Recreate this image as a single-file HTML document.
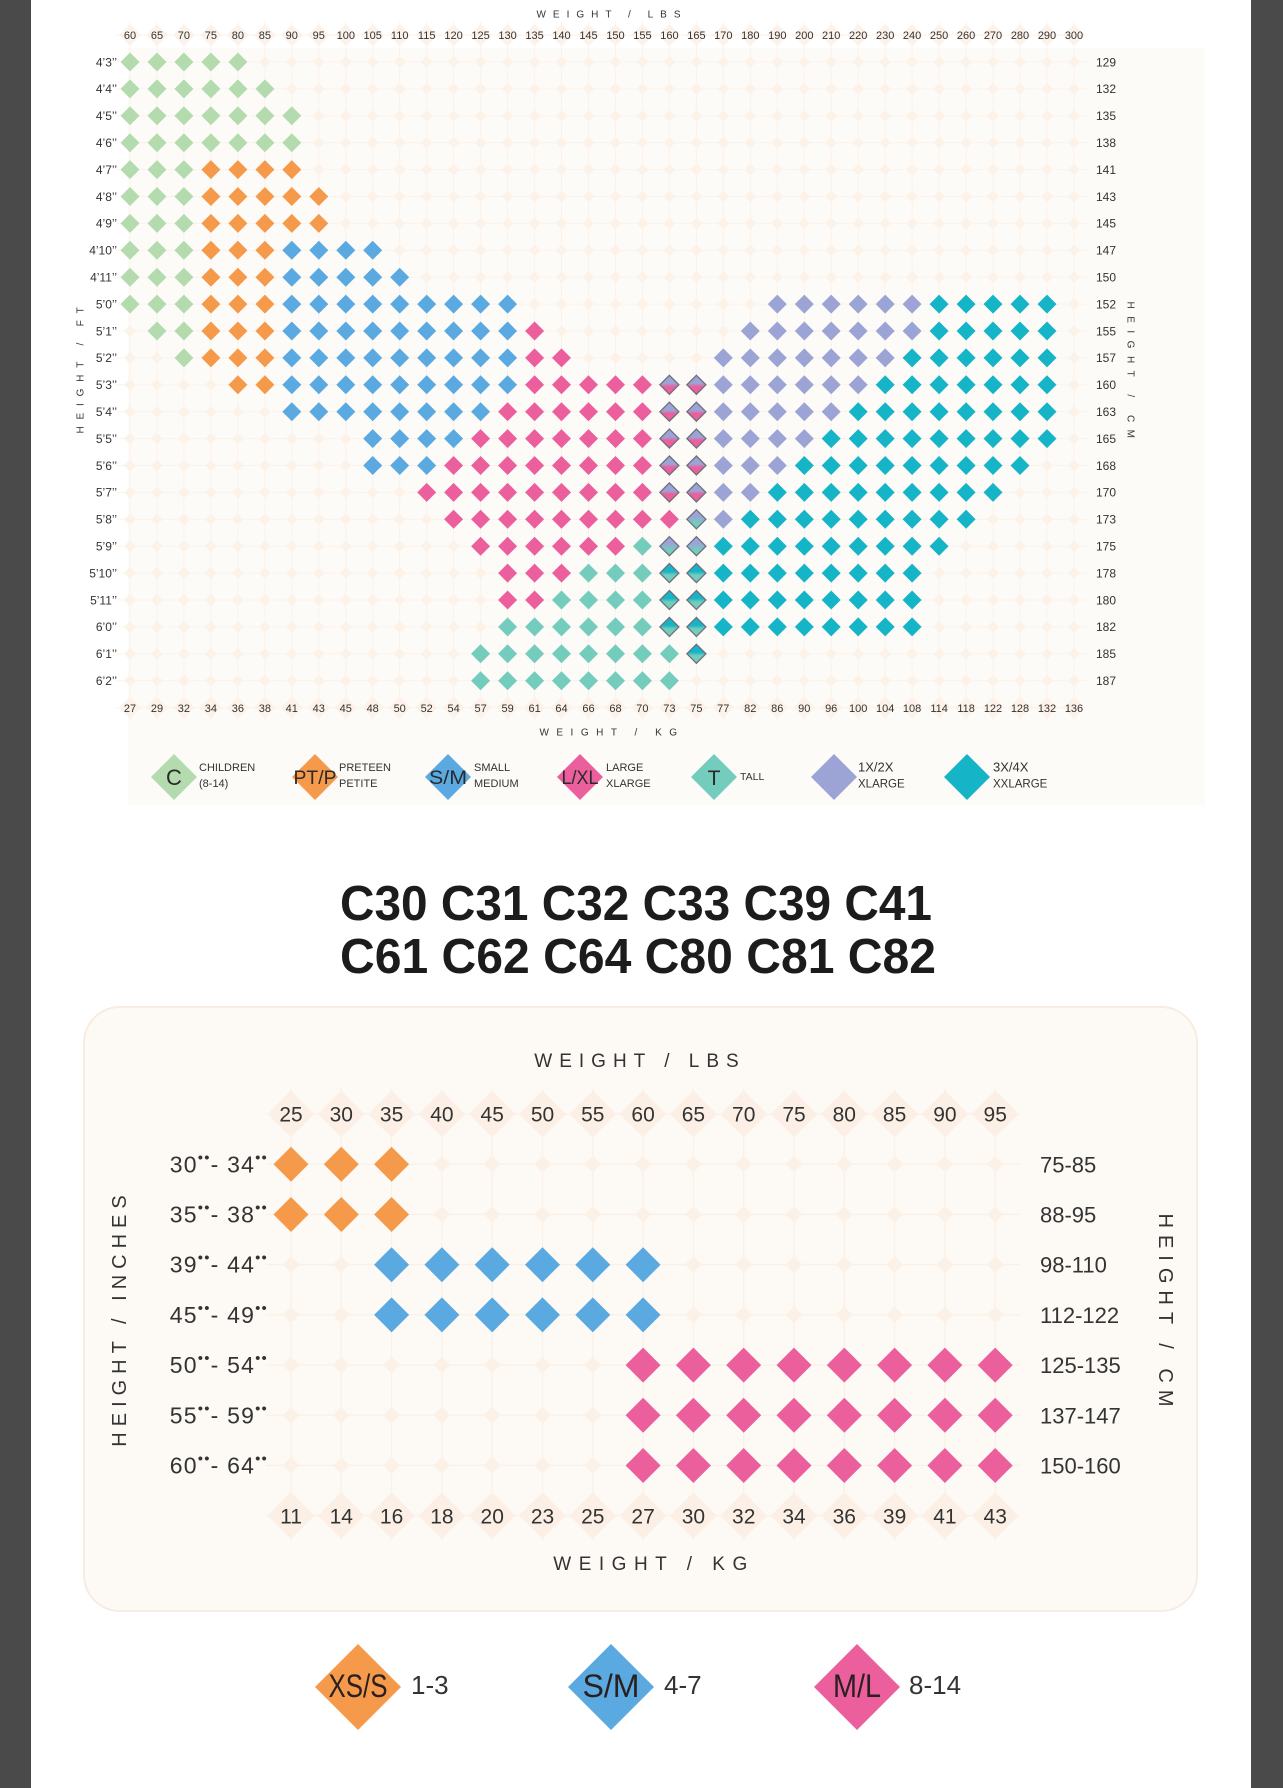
<!DOCTYPE html>
<html><head><meta charset="utf-8"><style>
html,body{margin:0;padding:0;background:#fff;}
body{width:1283px;height:1788px;overflow:hidden;}
svg{display:block;font-family:"Liberation Sans",Arial,sans-serif;}
</style></head><body>
<svg width="1283" height="1788" viewBox="0 0 1283 1788" xmlns="http://www.w3.org/2000/svg">
<defs>
<path id="g" d="M0-9.5L9.5 0L0 9.5L-9.5 0Z" fill="#b4dbae"/>
<path id="o" d="M0-9.5L9.5 0L0 9.5L-9.5 0Z" fill="#f59a4b"/>
<path id="b" d="M0-9.5L9.5 0L0 9.5L-9.5 0Z" fill="#5ba9e1"/>
<path id="p" d="M0-9.5L9.5 0L0 9.5L-9.5 0Z" fill="#eb5f9c"/>
<path id="t" d="M0-9.5L9.5 0L0 9.5L-9.5 0Z" fill="#73ccbc"/>
<path id="l" d="M0-9.5L9.5 0L0 9.5L-9.5 0Z" fill="#9ca4d6"/>
<path id="c" d="M0-9.5L9.5 0L0 9.5L-9.5 0Z" fill="#16b4c7"/>
<linearGradient id="gA" x1="0" y1="0" x2="0" y2="1"><stop offset=".42" stop-color="#9ca4d6"/><stop offset=".6" stop-color="#eb5f9c"/></linearGradient>
<linearGradient id="gB" x1="0" y1="0" x2="0" y2="1"><stop offset=".35" stop-color="#9ca4d6"/><stop offset=".7" stop-color="#73ccbc"/></linearGradient>
<linearGradient id="gC" x1="0" y1="0" x2="0" y2="1"><stop offset=".42" stop-color="#16b4c7"/><stop offset=".6" stop-color="#73ccbc"/></linearGradient>
<path id="sA" d="M0-9.5L9.5 0L0 9.5L-9.5 0Z" fill="url(#gA)" stroke="#6e6f7c" stroke-width="1.3"/>
<path id="sB" d="M0-9.5L9.5 0L0 9.5L-9.5 0Z" fill="url(#gB)" stroke="#6e6f7c" stroke-width="1.3"/>
<path id="sC" d="M0-9.5L9.5 0L0 9.5L-9.5 0Z" fill="url(#gC)" stroke="#6e6f7c" stroke-width="1.3"/>
<path id="O2" d="M0-17.5L17.5 0L0 17.5L-17.5 0Z" fill="#f59a4b"/>
<path id="B2" d="M0-17.5L17.5 0L0 17.5L-17.5 0Z" fill="#5ba9e1"/>
<path id="P2" d="M0-17.5L17.5 0L0 17.5L-17.5 0Z" fill="#eb5f9c"/>
<pattern id="gt" patternUnits="userSpaceOnUse" x="116.515" y="21.65" width="26.97" height="26.9">
<path d="M13.485 0V26.9M0 13.45H26.97" stroke="#faf3ed" stroke-width="1"/>
<path d="M13.485 7.5L19.485 13.45L13.485 19.4L7.485 13.45Z" fill="#fdf2e8"/>
</pattern>
<pattern id="lt" patternUnits="userSpaceOnUse" x="116.515" y="21.65" width="26.97" height="26.9">
<path d="M13.485 2.45L24.485 13.45L13.485 24.45L2.485 13.45Z" fill="#fdf2e9"/>
</pattern>
<pattern id="gbp" patternUnits="userSpaceOnUse" x="265.85" y="1088.9" width="50.3" height="50.2">
<path d="M25.15 0V50.2M0 25.1H50.3" stroke="#f8f0e8" stroke-width="1.2"/>
<path d="M25.15 16.6L33.65 25.1L25.15 33.6L16.65 25.1Z" fill="#fcf1e7"/>
</pattern>
<pattern id="lbp" patternUnits="userSpaceOnUse" x="265.85" y="1088.9" width="50.3" height="50.2">
<path d="M25.15 1.6L48.65 25.1L25.15 48.6L1.65 25.1Z" fill="#fcf0e6"/>
</pattern>
</defs>

<rect x="0" y="0" width="31" height="1788" fill="#4a4a4a"/>
<rect x="1251" y="0" width="32" height="1788" fill="#4a4a4a"/>

<rect x="128" y="48" width="1077" height="757" fill="#fdfbf8"/>
<rect x="116.515" y="21.65" width="970.92" height="699.4" fill="url(#gt)"/>
<rect x="116.515" y="21.65" width="970.92" height="26.9" fill="url(#lt)"/>
<rect x="116.515" y="694.15" width="970.92" height="26.9" fill="url(#lt)"/>

<g fill="#333" font-size="10">
<text x="612" y="17.5" text-anchor="middle" letter-spacing="7">WEIGHT / LBS</text>
<text x="612" y="735.5" text-anchor="middle" letter-spacing="7.5">WEIGHT / KG</text>
<text transform="translate(80,370) rotate(-90)" x="3" y="3.5" text-anchor="middle" letter-spacing="6.8">HEIGHT / FT</text>
<text transform="translate(1131,370) rotate(90)" x="3.5" y="3.5" text-anchor="middle" letter-spacing="7.5">HEIGHT / CM</text>
</g>

<text y="39" font-size="11" fill="#333" text-anchor="middle"><tspan x="130">60</tspan><tspan x="157">65</tspan><tspan x="183.9">70</tspan><tspan x="210.9">75</tspan><tspan x="237.9">80</tspan><tspan x="264.9">85</tspan><tspan x="291.8">90</tspan><tspan x="318.8">95</tspan><tspan x="345.8">100</tspan><tspan x="372.7">105</tspan><tspan x="399.7">110</tspan><tspan x="426.7">115</tspan><tspan x="453.6">120</tspan><tspan x="480.6">125</tspan><tspan x="507.6">130</tspan><tspan x="534.6">135</tspan><tspan x="561.5">140</tspan><tspan x="588.5">145</tspan><tspan x="615.5">150</tspan><tspan x="642.4">155</tspan><tspan x="669.4">160</tspan><tspan x="696.4">165</tspan><tspan x="723.3">170</tspan><tspan x="750.3">180</tspan><tspan x="777.3">190</tspan><tspan x="804.3">200</tspan><tspan x="831.2">210</tspan><tspan x="858.2">220</tspan><tspan x="885.2">230</tspan><tspan x="912.1">240</tspan><tspan x="939.1">250</tspan><tspan x="966.1">260</tspan><tspan x="993">270</tspan><tspan x="1020">280</tspan><tspan x="1047">290</tspan><tspan x="1074">300</tspan></text>

<text y="711.8" font-size="11" fill="#333" text-anchor="middle"><tspan x="130">27</tspan><tspan x="157">29</tspan><tspan x="183.9">32</tspan><tspan x="210.9">34</tspan><tspan x="237.9">36</tspan><tspan x="264.9">38</tspan><tspan x="291.8">41</tspan><tspan x="318.8">43</tspan><tspan x="345.8">45</tspan><tspan x="372.7">48</tspan><tspan x="399.7">50</tspan><tspan x="426.7">52</tspan><tspan x="453.6">54</tspan><tspan x="480.6">57</tspan><tspan x="507.6">59</tspan><tspan x="534.6">61</tspan><tspan x="561.5">64</tspan><tspan x="588.5">66</tspan><tspan x="615.5">68</tspan><tspan x="642.4">70</tspan><tspan x="669.4">73</tspan><tspan x="696.4">75</tspan><tspan x="723.3">77</tspan><tspan x="750.3">82</tspan><tspan x="777.3">86</tspan><tspan x="804.3">90</tspan><tspan x="831.2">96</tspan><tspan x="858.2">100</tspan><tspan x="885.2">104</tspan><tspan x="912.1">108</tspan><tspan x="939.1">114</tspan><tspan x="966.1">118</tspan><tspan x="993">122</tspan><tspan x="1020">128</tspan><tspan x="1047">132</tspan><tspan x="1074">136</tspan></text>

<text font-size="12" fill="#333" text-anchor="end"><tspan x="117" y="66.3">4’3’’</tspan><tspan x="117" y="93.2">4’4’’</tspan><tspan x="117" y="120.1">4’5’’</tspan><tspan x="117" y="147">4’6’’</tspan><tspan x="117" y="173.9">4’7’’</tspan><tspan x="117" y="200.8">4’8’’</tspan><tspan x="117" y="227.7">4’9’’</tspan><tspan x="117" y="254.6">4’10’’</tspan><tspan x="117" y="281.5">4’11’’</tspan><tspan x="117" y="308.4">5’0’’</tspan><tspan x="117" y="335.3">5’1’’</tspan><tspan x="117" y="362.2">5’2’’</tspan><tspan x="117" y="389.1">5’3’’</tspan><tspan x="117" y="416">5’4’’</tspan><tspan x="117" y="442.9">5’5’’</tspan><tspan x="117" y="469.8">5’6’’</tspan><tspan x="117" y="496.7">5’7’’</tspan><tspan x="117" y="523.6">5’8’’</tspan><tspan x="117" y="550.5">5’9’’</tspan><tspan x="117" y="577.4">5’10’’</tspan><tspan x="117" y="604.3">5’11’’</tspan><tspan x="117" y="631.2">6’0’’</tspan><tspan x="117" y="658.1">6’1’’</tspan><tspan x="117" y="685">6’2’’</tspan></text>

<text font-size="12" fill="#333"><tspan x="1096" y="66.3">129</tspan><tspan x="1096" y="93.2">132</tspan><tspan x="1096" y="120.1">135</tspan><tspan x="1096" y="147">138</tspan><tspan x="1096" y="173.9">141</tspan><tspan x="1096" y="200.8">143</tspan><tspan x="1096" y="227.7">145</tspan><tspan x="1096" y="254.6">147</tspan><tspan x="1096" y="281.5">150</tspan><tspan x="1096" y="308.4">152</tspan><tspan x="1096" y="335.3">155</tspan><tspan x="1096" y="362.2">157</tspan><tspan x="1096" y="389.1">160</tspan><tspan x="1096" y="416">163</tspan><tspan x="1096" y="442.9">165</tspan><tspan x="1096" y="469.8">168</tspan><tspan x="1096" y="496.7">170</tspan><tspan x="1096" y="523.6">173</tspan><tspan x="1096" y="550.5">175</tspan><tspan x="1096" y="577.4">178</tspan><tspan x="1096" y="604.3">180</tspan><tspan x="1096" y="631.2">182</tspan><tspan x="1096" y="658.1">185</tspan><tspan x="1096" y="685">187</tspan></text>

<g transform="translate(0,62)"><use href="#g" x="130"/><use href="#g" x="157"/><use href="#g" x="183.9"/><use href="#g" x="210.9"/><use href="#g" x="237.9"/></g>
<g transform="translate(0,88.9)"><use href="#g" x="130"/><use href="#g" x="157"/><use href="#g" x="183.9"/><use href="#g" x="210.9"/><use href="#g" x="237.9"/><use href="#g" x="264.9"/></g>
<g transform="translate(0,115.8)"><use href="#g" x="130"/><use href="#g" x="157"/><use href="#g" x="183.9"/><use href="#g" x="210.9"/><use href="#g" x="237.9"/><use href="#g" x="264.9"/><use href="#g" x="291.8"/></g>
<g transform="translate(0,142.7)"><use href="#g" x="130"/><use href="#g" x="157"/><use href="#g" x="183.9"/><use href="#g" x="210.9"/><use href="#g" x="237.9"/><use href="#g" x="264.9"/><use href="#g" x="291.8"/></g>
<g transform="translate(0,169.6)"><use href="#g" x="130"/><use href="#g" x="157"/><use href="#g" x="183.9"/><use href="#o" x="210.9"/><use href="#o" x="237.9"/><use href="#o" x="264.9"/><use href="#o" x="291.8"/></g>
<g transform="translate(0,196.5)"><use href="#g" x="130"/><use href="#g" x="157"/><use href="#g" x="183.9"/><use href="#o" x="210.9"/><use href="#o" x="237.9"/><use href="#o" x="264.9"/><use href="#o" x="291.8"/><use href="#o" x="318.8"/></g>
<g transform="translate(0,223.4)"><use href="#g" x="130"/><use href="#g" x="157"/><use href="#g" x="183.9"/><use href="#o" x="210.9"/><use href="#o" x="237.9"/><use href="#o" x="264.9"/><use href="#o" x="291.8"/><use href="#o" x="318.8"/></g>
<g transform="translate(0,250.3)"><use href="#g" x="130"/><use href="#g" x="157"/><use href="#g" x="183.9"/><use href="#o" x="210.9"/><use href="#o" x="237.9"/><use href="#o" x="264.9"/><use href="#b" x="291.8"/><use href="#b" x="318.8"/><use href="#b" x="345.8"/><use href="#b" x="372.7"/></g>
<g transform="translate(0,277.2)"><use href="#g" x="130"/><use href="#g" x="157"/><use href="#g" x="183.9"/><use href="#o" x="210.9"/><use href="#o" x="237.9"/><use href="#o" x="264.9"/><use href="#b" x="291.8"/><use href="#b" x="318.8"/><use href="#b" x="345.8"/><use href="#b" x="372.7"/><use href="#b" x="399.7"/></g>
<g transform="translate(0,304.1)"><use href="#g" x="130"/><use href="#g" x="157"/><use href="#g" x="183.9"/><use href="#o" x="210.9"/><use href="#o" x="237.9"/><use href="#o" x="264.9"/><use href="#b" x="291.8"/><use href="#b" x="318.8"/><use href="#b" x="345.8"/><use href="#b" x="372.7"/><use href="#b" x="399.7"/><use href="#b" x="426.7"/><use href="#b" x="453.6"/><use href="#b" x="480.6"/><use href="#b" x="507.6"/><use href="#l" x="777.3"/><use href="#l" x="804.3"/><use href="#l" x="831.2"/><use href="#l" x="858.2"/><use href="#l" x="885.2"/><use href="#l" x="912.1"/><use href="#c" x="939.1"/><use href="#c" x="966.1"/><use href="#c" x="993"/><use href="#c" x="1020"/><use href="#c" x="1047"/></g>
<g transform="translate(0,331)"><use href="#g" x="157"/><use href="#g" x="183.9"/><use href="#o" x="210.9"/><use href="#o" x="237.9"/><use href="#o" x="264.9"/><use href="#b" x="291.8"/><use href="#b" x="318.8"/><use href="#b" x="345.8"/><use href="#b" x="372.7"/><use href="#b" x="399.7"/><use href="#b" x="426.7"/><use href="#b" x="453.6"/><use href="#b" x="480.6"/><use href="#b" x="507.6"/><use href="#p" x="534.6"/><use href="#l" x="750.3"/><use href="#l" x="777.3"/><use href="#l" x="804.3"/><use href="#l" x="831.2"/><use href="#l" x="858.2"/><use href="#l" x="885.2"/><use href="#l" x="912.1"/><use href="#c" x="939.1"/><use href="#c" x="966.1"/><use href="#c" x="993"/><use href="#c" x="1020"/><use href="#c" x="1047"/></g>
<g transform="translate(0,357.9)"><use href="#g" x="183.9"/><use href="#o" x="210.9"/><use href="#o" x="237.9"/><use href="#o" x="264.9"/><use href="#b" x="291.8"/><use href="#b" x="318.8"/><use href="#b" x="345.8"/><use href="#b" x="372.7"/><use href="#b" x="399.7"/><use href="#b" x="426.7"/><use href="#b" x="453.6"/><use href="#b" x="480.6"/><use href="#b" x="507.6"/><use href="#p" x="534.6"/><use href="#p" x="561.5"/><use href="#l" x="723.3"/><use href="#l" x="750.3"/><use href="#l" x="777.3"/><use href="#l" x="804.3"/><use href="#l" x="831.2"/><use href="#l" x="858.2"/><use href="#l" x="885.2"/><use href="#c" x="912.1"/><use href="#c" x="939.1"/><use href="#c" x="966.1"/><use href="#c" x="993"/><use href="#c" x="1020"/><use href="#c" x="1047"/></g>
<g transform="translate(0,384.8)"><use href="#o" x="237.9"/><use href="#o" x="264.9"/><use href="#b" x="291.8"/><use href="#b" x="318.8"/><use href="#b" x="345.8"/><use href="#b" x="372.7"/><use href="#b" x="399.7"/><use href="#b" x="426.7"/><use href="#b" x="453.6"/><use href="#b" x="480.6"/><use href="#b" x="507.6"/><use href="#p" x="534.6"/><use href="#p" x="561.5"/><use href="#p" x="588.5"/><use href="#p" x="615.5"/><use href="#p" x="642.4"/><use href="#sA" x="669.4"/><use href="#sA" x="696.4"/><use href="#l" x="723.3"/><use href="#l" x="750.3"/><use href="#l" x="777.3"/><use href="#l" x="804.3"/><use href="#l" x="831.2"/><use href="#l" x="858.2"/><use href="#c" x="885.2"/><use href="#c" x="912.1"/><use href="#c" x="939.1"/><use href="#c" x="966.1"/><use href="#c" x="993"/><use href="#c" x="1020"/><use href="#c" x="1047"/></g>
<g transform="translate(0,411.7)"><use href="#b" x="291.8"/><use href="#b" x="318.8"/><use href="#b" x="345.8"/><use href="#b" x="372.7"/><use href="#b" x="399.7"/><use href="#b" x="426.7"/><use href="#b" x="453.6"/><use href="#b" x="480.6"/><use href="#p" x="507.6"/><use href="#p" x="534.6"/><use href="#p" x="561.5"/><use href="#p" x="588.5"/><use href="#p" x="615.5"/><use href="#p" x="642.4"/><use href="#sA" x="669.4"/><use href="#sA" x="696.4"/><use href="#l" x="723.3"/><use href="#l" x="750.3"/><use href="#l" x="777.3"/><use href="#l" x="804.3"/><use href="#l" x="831.2"/><use href="#c" x="858.2"/><use href="#c" x="885.2"/><use href="#c" x="912.1"/><use href="#c" x="939.1"/><use href="#c" x="966.1"/><use href="#c" x="993"/><use href="#c" x="1020"/><use href="#c" x="1047"/></g>
<g transform="translate(0,438.6)"><use href="#b" x="372.7"/><use href="#b" x="399.7"/><use href="#b" x="426.7"/><use href="#b" x="453.6"/><use href="#p" x="480.6"/><use href="#p" x="507.6"/><use href="#p" x="534.6"/><use href="#p" x="561.5"/><use href="#p" x="588.5"/><use href="#p" x="615.5"/><use href="#p" x="642.4"/><use href="#sA" x="669.4"/><use href="#sA" x="696.4"/><use href="#l" x="723.3"/><use href="#l" x="750.3"/><use href="#l" x="777.3"/><use href="#l" x="804.3"/><use href="#c" x="831.2"/><use href="#c" x="858.2"/><use href="#c" x="885.2"/><use href="#c" x="912.1"/><use href="#c" x="939.1"/><use href="#c" x="966.1"/><use href="#c" x="993"/><use href="#c" x="1020"/><use href="#c" x="1047"/></g>
<g transform="translate(0,465.5)"><use href="#b" x="372.7"/><use href="#b" x="399.7"/><use href="#b" x="426.7"/><use href="#p" x="453.6"/><use href="#p" x="480.6"/><use href="#p" x="507.6"/><use href="#p" x="534.6"/><use href="#p" x="561.5"/><use href="#p" x="588.5"/><use href="#p" x="615.5"/><use href="#p" x="642.4"/><use href="#sA" x="669.4"/><use href="#sA" x="696.4"/><use href="#l" x="723.3"/><use href="#l" x="750.3"/><use href="#l" x="777.3"/><use href="#c" x="804.3"/><use href="#c" x="831.2"/><use href="#c" x="858.2"/><use href="#c" x="885.2"/><use href="#c" x="912.1"/><use href="#c" x="939.1"/><use href="#c" x="966.1"/><use href="#c" x="993"/><use href="#c" x="1020"/></g>
<g transform="translate(0,492.4)"><use href="#p" x="426.7"/><use href="#p" x="453.6"/><use href="#p" x="480.6"/><use href="#p" x="507.6"/><use href="#p" x="534.6"/><use href="#p" x="561.5"/><use href="#p" x="588.5"/><use href="#p" x="615.5"/><use href="#p" x="642.4"/><use href="#sA" x="669.4"/><use href="#sA" x="696.4"/><use href="#l" x="723.3"/><use href="#l" x="750.3"/><use href="#c" x="777.3"/><use href="#c" x="804.3"/><use href="#c" x="831.2"/><use href="#c" x="858.2"/><use href="#c" x="885.2"/><use href="#c" x="912.1"/><use href="#c" x="939.1"/><use href="#c" x="966.1"/><use href="#c" x="993"/></g>
<g transform="translate(0,519.3)"><use href="#p" x="453.6"/><use href="#p" x="480.6"/><use href="#p" x="507.6"/><use href="#p" x="534.6"/><use href="#p" x="561.5"/><use href="#p" x="588.5"/><use href="#p" x="615.5"/><use href="#p" x="642.4"/><use href="#p" x="669.4"/><use href="#sB" x="696.4"/><use href="#l" x="723.3"/><use href="#c" x="750.3"/><use href="#c" x="777.3"/><use href="#c" x="804.3"/><use href="#c" x="831.2"/><use href="#c" x="858.2"/><use href="#c" x="885.2"/><use href="#c" x="912.1"/><use href="#c" x="939.1"/><use href="#c" x="966.1"/></g>
<g transform="translate(0,546.2)"><use href="#p" x="480.6"/><use href="#p" x="507.6"/><use href="#p" x="534.6"/><use href="#p" x="561.5"/><use href="#p" x="588.5"/><use href="#p" x="615.5"/><use href="#t" x="642.4"/><use href="#sB" x="669.4"/><use href="#sB" x="696.4"/><use href="#c" x="723.3"/><use href="#c" x="750.3"/><use href="#c" x="777.3"/><use href="#c" x="804.3"/><use href="#c" x="831.2"/><use href="#c" x="858.2"/><use href="#c" x="885.2"/><use href="#c" x="912.1"/><use href="#c" x="939.1"/></g>
<g transform="translate(0,573.1)"><use href="#p" x="507.6"/><use href="#p" x="534.6"/><use href="#p" x="561.5"/><use href="#t" x="588.5"/><use href="#t" x="615.5"/><use href="#t" x="642.4"/><use href="#sC" x="669.4"/><use href="#sC" x="696.4"/><use href="#c" x="723.3"/><use href="#c" x="750.3"/><use href="#c" x="777.3"/><use href="#c" x="804.3"/><use href="#c" x="831.2"/><use href="#c" x="858.2"/><use href="#c" x="885.2"/><use href="#c" x="912.1"/></g>
<g transform="translate(0,600)"><use href="#p" x="507.6"/><use href="#p" x="534.6"/><use href="#t" x="561.5"/><use href="#t" x="588.5"/><use href="#t" x="615.5"/><use href="#t" x="642.4"/><use href="#sC" x="669.4"/><use href="#sC" x="696.4"/><use href="#c" x="723.3"/><use href="#c" x="750.3"/><use href="#c" x="777.3"/><use href="#c" x="804.3"/><use href="#c" x="831.2"/><use href="#c" x="858.2"/><use href="#c" x="885.2"/><use href="#c" x="912.1"/></g>
<g transform="translate(0,626.9)"><use href="#t" x="507.6"/><use href="#t" x="534.6"/><use href="#t" x="561.5"/><use href="#t" x="588.5"/><use href="#t" x="615.5"/><use href="#t" x="642.4"/><use href="#sC" x="669.4"/><use href="#sC" x="696.4"/><use href="#c" x="723.3"/><use href="#c" x="750.3"/><use href="#c" x="777.3"/><use href="#c" x="804.3"/><use href="#c" x="831.2"/><use href="#c" x="858.2"/><use href="#c" x="885.2"/><use href="#c" x="912.1"/></g>
<g transform="translate(0,653.8)"><use href="#t" x="480.6"/><use href="#t" x="507.6"/><use href="#t" x="534.6"/><use href="#t" x="561.5"/><use href="#t" x="588.5"/><use href="#t" x="615.5"/><use href="#t" x="642.4"/><use href="#t" x="669.4"/><use href="#sC" x="696.4"/></g>
<g transform="translate(0,680.7)"><use href="#t" x="480.6"/><use href="#t" x="507.6"/><use href="#t" x="534.6"/><use href="#t" x="561.5"/><use href="#t" x="588.5"/><use href="#t" x="615.5"/><use href="#t" x="642.4"/><use href="#t" x="669.4"/></g>

<g>
<path d="M174 754L197 777L174 800L151 777Z" fill="#b4dbae"/>
<path d="M315 754L338 777L315 800L292 777Z" fill="#f59a4b"/>
<path d="M448 754L471 777L448 800L425 777Z" fill="#5ba9e1"/>
<path d="M580 754L603 777L580 800L557 777Z" fill="#eb5f9c"/>
<path d="M714 754L737 777L714 800L691 777Z" fill="#73ccbc"/>
<path d="M834 754L857 777L834 800L811 777Z" fill="#9ca4d6"/>
<path d="M967 754L990 777L967 800L944 777Z" fill="#16b4c7"/>
</g>
<g fill="#2a2a2a" text-anchor="middle">
<text x="174" y="785" font-size="22">C</text>
<text x="315" y="784" font-size="19" textLength="43" lengthAdjust="spacingAndGlyphs">PT/P</text>
<text x="448" y="784" font-size="19" textLength="38" lengthAdjust="spacingAndGlyphs">S/M</text>
<text x="580" y="784" font-size="19" textLength="37" lengthAdjust="spacingAndGlyphs">L/XL</text>
<text x="714" y="785" font-size="21">T</text>
</g>
<g fill="#333" font-size="11">
<text x="199" y="771">CHILDREN</text><text x="199" y="787">(8-14)</text>
<text x="339" y="771">PRETEEN</text><text x="339" y="787">PETITE</text>
<text x="474" y="771">SMALL</text><text x="474" y="787">MEDIUM</text>
<text x="606" y="771">LARGE</text><text x="606" y="787">XLARGE</text>
<text x="740" y="780" font-size="10.5">TALL</text>
<text x="858" y="771.5" font-size="13">1X/2X</text><text x="858" y="787.5" font-size="11.5">XLARGE</text>
<text x="993" y="771.5" font-size="13">3X/4X</text><text x="993" y="787.5" font-size="11.5">XXLARGE</text>
</g>

<g fill="#1c1c1c" font-weight="bold" font-size="49" text-anchor="middle">
<text x="636" y="920" textLength="592" lengthAdjust="spacingAndGlyphs">C30 C31 C32 C33 C39 C41</text>
<text x="638" y="973" textLength="596" lengthAdjust="spacingAndGlyphs">C61 C62 C64 C80 C81 C82</text>
</g>

<rect x="84" y="1007" width="1113" height="604" rx="36" ry="36" fill="#fdfaf6" stroke="#f7ece2" stroke-width="2"/>
<rect x="265.85" y="1088.9" width="754.5" height="451.8" fill="url(#gbp)"/>
<rect x="265.85" y="1088.9" width="754.5" height="50.2" fill="url(#lbp)"/>
<rect x="265.85" y="1490.5" width="754.5" height="50.2" fill="url(#lbp)"/>

<g fill="#333" font-size="19">
<text x="640" y="1067" text-anchor="middle" letter-spacing="7">WEIGHT / LBS</text>
<text x="654" y="1570" text-anchor="middle" letter-spacing="7.5">WEIGHT / KG</text>
<text transform="translate(119,1321) rotate(-90)" x="3" y="7" text-anchor="middle" font-size="20" letter-spacing="6">HEIGHT / INCHES</text>
<text transform="translate(1166,1310) rotate(90)" x="3.5" y="7" text-anchor="middle" font-size="20" letter-spacing="7">HEIGHT / CM</text>
</g>

<text y="1121.6" font-size="21" fill="#333" text-anchor="middle"><tspan x="291">25</tspan><tspan x="341.3">30</tspan><tspan x="391.6">35</tspan><tspan x="441.9">40</tspan><tspan x="492.2">45</tspan><tspan x="542.5">50</tspan><tspan x="592.8">55</tspan><tspan x="643.1">60</tspan><tspan x="693.4">65</tspan><tspan x="743.7">70</tspan><tspan x="794">75</tspan><tspan x="844.3">80</tspan><tspan x="894.6">85</tspan><tspan x="944.9">90</tspan><tspan x="995.2">95</tspan></text>
<text y="1523.5" font-size="21" fill="#333" text-anchor="middle"><tspan x="291">11</tspan><tspan x="341.3">14</tspan><tspan x="391.6">16</tspan><tspan x="441.9">18</tspan><tspan x="492.2">20</tspan><tspan x="542.5">23</tspan><tspan x="592.8">25</tspan><tspan x="643.1">27</tspan><tspan x="693.4">30</tspan><tspan x="743.7">32</tspan><tspan x="794">34</tspan><tspan x="844.3">36</tspan><tspan x="894.6">39</tspan><tspan x="944.9">41</tspan><tspan x="995.2">43</tspan></text>

<g fill="#333" font-size="23" text-anchor="end" letter-spacing="1.2">
<text x="268" y="1172.3">30<tspan font-size="15" dy="-10">••</tspan><tspan dy="10">- 34</tspan><tspan font-size="15" dy="-10">••</tspan></text>
<text x="268" y="1222.5">35<tspan font-size="15" dy="-10">••</tspan><tspan dy="10">- 38</tspan><tspan font-size="15" dy="-10">••</tspan></text>
<text x="268" y="1272.7">39<tspan font-size="15" dy="-10">••</tspan><tspan dy="10">- 44</tspan><tspan font-size="15" dy="-10">••</tspan></text>
<text x="268" y="1322.9">45<tspan font-size="15" dy="-10">••</tspan><tspan dy="10">- 49</tspan><tspan font-size="15" dy="-10">••</tspan></text>
<text x="268" y="1373.1">50<tspan font-size="15" dy="-10">••</tspan><tspan dy="10">- 54</tspan><tspan font-size="15" dy="-10">••</tspan></text>
<text x="268" y="1423.3">55<tspan font-size="15" dy="-10">••</tspan><tspan dy="10">- 59</tspan><tspan font-size="15" dy="-10">••</tspan></text>
<text x="268" y="1473.5">60<tspan font-size="15" dy="-10">••</tspan><tspan dy="10">- 64</tspan><tspan font-size="15" dy="-10">••</tspan></text>
</g>
<g fill="#333" font-size="22">
<text x="1040" y="1172.3">75-85</text>
<text x="1040" y="1222.5">88-95</text>
<text x="1040" y="1272.7">98-110</text>
<text x="1040" y="1322.9">112-122</text>
<text x="1040" y="1373.1">125-135</text>
<text x="1040" y="1423.3">137-147</text>
<text x="1040" y="1473.5">150-160</text>
</g>

<g transform="translate(0,1164.3)"><use href="#O2" x="291"/><use href="#O2" x="341.3"/><use href="#O2" x="391.6"/></g>
<g transform="translate(0,1214.5)"><use href="#O2" x="291"/><use href="#O2" x="341.3"/><use href="#O2" x="391.6"/></g>
<g transform="translate(0,1264.7)"><use href="#B2" x="391.6"/><use href="#B2" x="441.9"/><use href="#B2" x="492.2"/><use href="#B2" x="542.5"/><use href="#B2" x="592.8"/><use href="#B2" x="643.1"/></g>
<g transform="translate(0,1314.9)"><use href="#B2" x="391.6"/><use href="#B2" x="441.9"/><use href="#B2" x="492.2"/><use href="#B2" x="542.5"/><use href="#B2" x="592.8"/><use href="#B2" x="643.1"/></g>
<g transform="translate(0,1365.1)"><use href="#P2" x="643.1"/><use href="#P2" x="693.4"/><use href="#P2" x="743.7"/><use href="#P2" x="794"/><use href="#P2" x="844.3"/><use href="#P2" x="894.6"/><use href="#P2" x="944.9"/><use href="#P2" x="995.2"/></g>
<g transform="translate(0,1415.3)"><use href="#P2" x="643.1"/><use href="#P2" x="693.4"/><use href="#P2" x="743.7"/><use href="#P2" x="794"/><use href="#P2" x="844.3"/><use href="#P2" x="894.6"/><use href="#P2" x="944.9"/><use href="#P2" x="995.2"/></g>
<g transform="translate(0,1465.5)"><use href="#P2" x="643.1"/><use href="#P2" x="693.4"/><use href="#P2" x="743.7"/><use href="#P2" x="794"/><use href="#P2" x="844.3"/><use href="#P2" x="894.6"/><use href="#P2" x="944.9"/><use href="#P2" x="995.2"/></g>

<path d="M358 1644L401 1687L358 1730L315 1687Z" fill="#f59a4b"/>
<path d="M611 1644L654 1687L611 1730L568 1687Z" fill="#5ba9e1"/>
<path d="M857 1644L900 1687L857 1730L814 1687Z" fill="#eb5f9c"/>
<g fill="#2a2020" font-size="32" text-anchor="middle">
<text x="358" y="1697" textLength="59" lengthAdjust="spacingAndGlyphs">XS/S</text>
<text x="611" y="1697" textLength="57" lengthAdjust="spacingAndGlyphs">S/M</text>
<text x="857" y="1697" textLength="48" lengthAdjust="spacingAndGlyphs">M/L</text>
</g>
<g fill="#333" font-size="26">
<text x="411" y="1694">1-3</text>
<text x="664" y="1694">4-7</text>
<text x="909" y="1694">8-14</text>
</g>
</svg>
</body></html>
